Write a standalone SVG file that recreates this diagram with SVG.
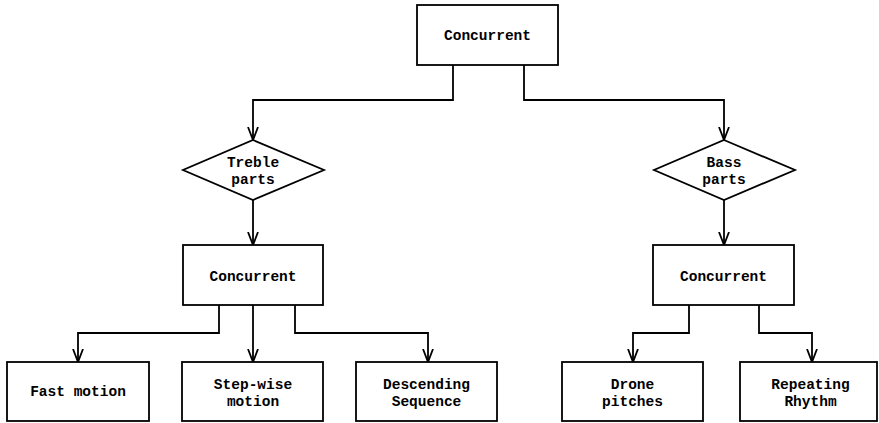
<svg xmlns="http://www.w3.org/2000/svg" width="879" height="423" viewBox="0 0 879 423">
  <style>
    .box { fill: #ffffff; stroke: #000000; stroke-width: 1.8; }
    .lbl { font-family: "Liberation Mono", "Courier New", monospace; font-weight: bold; font-size: 14.5px; fill: #000000; text-anchor: middle; }
    .wire { fill: none; stroke: #000000; stroke-width: 1.8; marker-end: url(#arr); }
  </style>
  <defs>
    <marker id="arr" viewBox="0 0 14 12" refX="13" refY="6" markerWidth="14" markerHeight="12" markerUnits="userSpaceOnUse" orient="auto">
      <path d="M0,1 L13,6 L0,11" fill="none" stroke="#000000" stroke-width="1.8"/>
    </marker>
  </defs>
  <rect width="879" height="423" fill="#ffffff"/>

  <!-- connectors -->
  <g id="connectors">
    <path class="wire" d="M453,65 V100 H253 V140"/>
    <path class="wire" d="M524,65 V100 H724 V140"/>
    <path class="wire" d="M253,200 V245"/>
    <path class="wire" d="M724,200 V245"/>
    <path class="wire" d="M219,305 V333 H78 V362"/>
    <path class="wire" d="M253,305 V362"/>
    <path class="wire" d="M295,305 V333 H428 V362"/>
    <path class="wire" d="M689,305 V333 H633 V362"/>
    <path class="wire" d="M759,305 V333 H812 V362"/>
  </g>

  <!-- root -->
  <g id="root">
    <rect class="box" x="417" y="5" width="141" height="60"/>
    <text class="lbl" x="487.5" y="40">Concurrent</text>
  </g>

  <!-- treble branch -->
  <g id="treble">
    <polygon class="box" points="253,140 324,170 253,200 183,170"/>
    <text class="lbl" x="253" y="167">Treble</text>
    <text class="lbl" x="253" y="184">parts</text>
  </g>
  <g id="treble-concurrent">
    <rect class="box" x="183" y="245" width="140" height="60"/>
    <text class="lbl" x="253" y="281">Concurrent</text>
  </g>
  <g id="fast-motion">
    <rect class="box" x="7" y="362" width="142" height="59"/>
    <text class="lbl" x="78" y="396">Fast motion</text>
  </g>
  <g id="step-wise">
    <rect class="box" x="182" y="362" width="141" height="59"/>
    <text class="lbl" x="253" y="389">Step-wise</text>
    <text class="lbl" x="253" y="406">motion</text>
  </g>
  <g id="descending">
    <rect class="box" x="356" y="362" width="141" height="59"/>
    <text class="lbl" x="426.5" y="389">Descending</text>
    <text class="lbl" x="426.5" y="406">Sequence</text>
  </g>

  <!-- bass branch -->
  <g id="bass">
    <polygon class="box" points="724,140 795,170 724,200 654,170"/>
    <text class="lbl" x="724" y="167">Bass</text>
    <text class="lbl" x="724" y="184">parts</text>
  </g>
  <g id="bass-concurrent">
    <rect class="box" x="653" y="245" width="141" height="60"/>
    <text class="lbl" x="723.5" y="281">Concurrent</text>
  </g>
  <g id="drone">
    <rect class="box" x="562" y="362" width="141" height="59"/>
    <text class="lbl" x="632.5" y="389">Drone</text>
    <text class="lbl" x="632.5" y="406">pitches</text>
  </g>
  <g id="repeating">
    <rect class="box" x="740" y="362" width="137" height="59"/>
    <text class="lbl" x="810.5" y="389">Repeating</text>
    <text class="lbl" x="810.5" y="406">Rhythm</text>
  </g>
</svg>
